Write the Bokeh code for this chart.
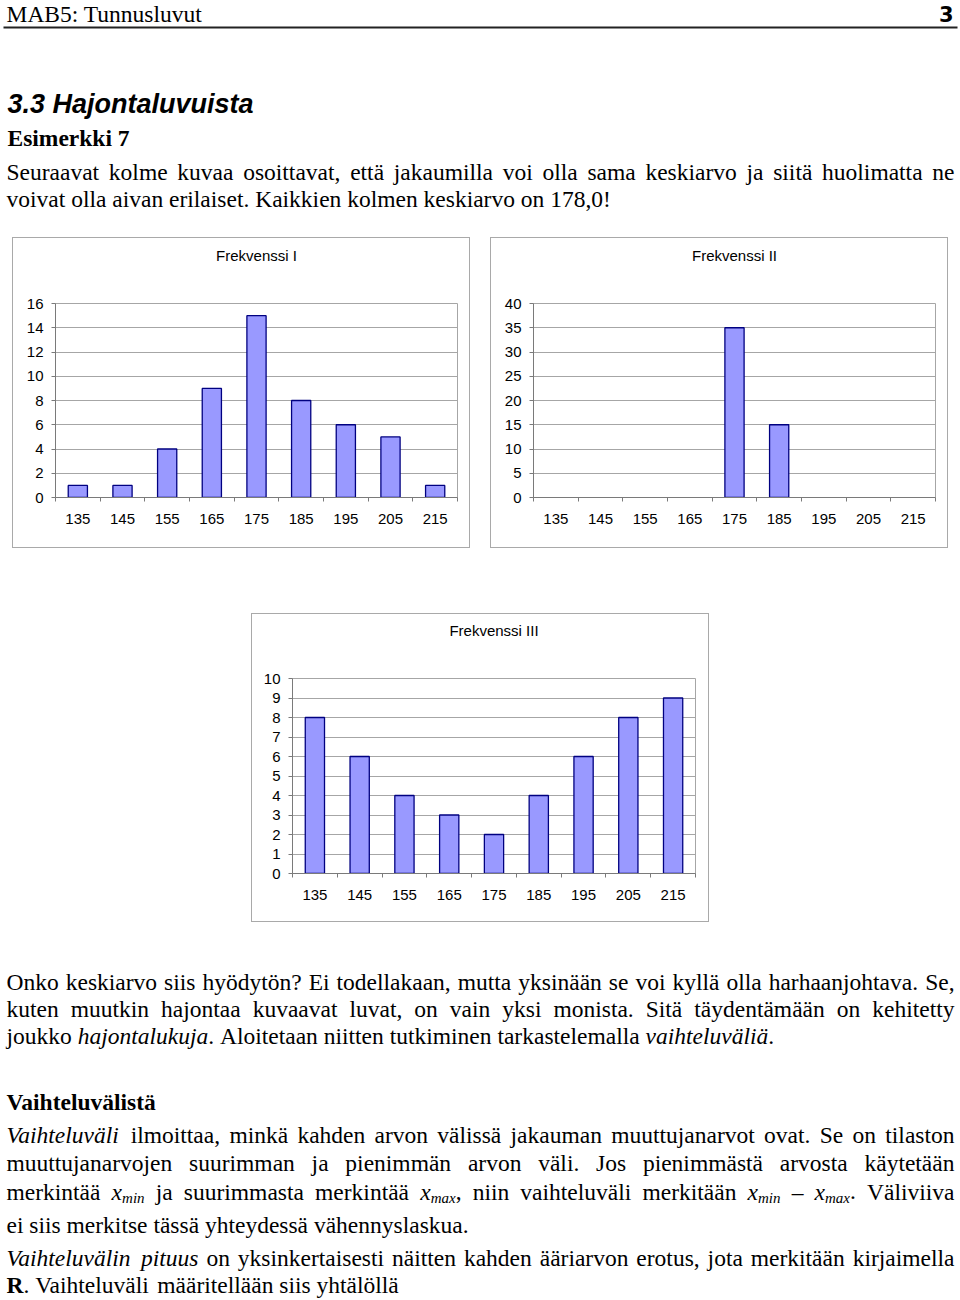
import re
import numpy as np
from bokeh.plotting import figure
from bokeh.models import Range1d, FixedTicker, Spacer, ColumnDataSource
from bokeh.layouts import column, row
from bokeh.embed import file_html
from bokeh.resources import INLINE
from bokeh.core.properties import value

# ---------------- data ----------------
categories = ["135", "145", "155", "165", "175", "185", "195", "205", "215"]
freq_1 = [1, 1, 4, 9, 15, 8, 6, 5, 1]
freq_2 = [0, 0, 0, 0, 35, 15, 0, 0, 0]
freq_3 = [8, 6, 4, 3, 2, 4, 6, 8, 9]
chart_titles = ["Frekvenssi I", "Frekvenssi II", "Frekvenssi III"]
y_limits = [16, 40, 10]
y_steps = [2, 5, 1]

header_left = "MAB5: Tunnusluvut"
page_number = "3"
section_title = "3.3 Hajontaluvuista"
example_title = "Esimerkki 7"
intro_lines = [
    "Seuraavat kolme kuvaa osoittavat, että jakaumilla voi olla sama keskiarvo ja siitä huolimatta ne",
    "voivat olla aivan erilaiset. Kaikkien kolmen keskiarvo on 178,0!",
]
intro_justify = [True, False]

lower_lines = [
    "Onko keskiarvo siis hyödytön? Ei todellakaan, mutta yksinään se voi kyllä olla harhaanjohtava. Se,",
    "kuten muutkin hajontaa kuvaavat luvat, on vain yksi monista. Sitä täydentämään on kehitetty",
    "joukko {i:hajontalukuja}. Aloitetaan niitten tutkiminen tarkastelemalla {i:vaihteluväliä}.",
    "{b:Vaihteluvälistä}",
    "{i:Vaihteluväli} ilmoittaa, minkä kahden arvon välissä jakauman muuttujanarvot ovat. Se on tilaston",
    "muuttujanarvojen suurimman ja pienimmän arvon väli. Jos pienimmästä arvosta käytetään",
    "merkintää {i:x}{s:min} ja suurimmasta merkintää {i:x}{s:max}, niin vaihteluväli merkitään {i:x}{s:min} – {i:x}{s:max}. Väliviiva",
    "ei siis merkitse tässä yhteydessä vähennyslaskua.",
    "{i:Vaihteluvälin} {i:pituus} on yksinkertaisesti näitten kahden ääriarvon erotus, jota merkitään kirjaimella",
    "{b:R}. Vaihteluväli määritellään siis yhtälöllä",
]
lower_justify = [True, True, False, False, True, True, True, False, True, False]

# ---------------- layout constants ----------------
intro_baselines = [176, 203]
lower_baselines = [986.5, 1013.5, 1040.5, 1106.5, 1139.5, 1167.5, 1196, 1229, 1262.5, 1289.5]
TEXT_L, TEXT_R = 6.0, 954.0
BODY_SIZE = 23.5
SUB_SIZE = 15.0
SUB_SHIFT = 5.0
BASE_CORR = 0.21  # renderer draws "alphabetic" text a little low; lift by this fraction of the size

LOW = "abcdefghijklmnopqrstuvwxyz"
UP = "ABCDEFGHIJKLMNOPQRSTUVWXYZ"


def mk(low, up, extra):
    d = dict(zip(LOW, low))
    d.update(zip(UP, up))
    d.update({str(i): 500 for i in range(10)})
    d.update(extra)
    return d


ROMAN = mk([444, 500, 444, 500, 444, 333, 500, 500, 278, 278, 500, 278, 778, 500, 500, 500, 500, 333, 389, 278, 500, 500, 722, 500, 500, 444],
           [722, 667, 667, 722, 611, 556, 722, 722, 333, 389, 722, 611, 889, 722, 722, 556, 722, 667, 556, 611, 722, 722, 944, 722, 722, 611],
           {' ': 250, ',': 250, '.': 250, ':': 278, '?': 444, '!': 333, '–': 500})
ITALIC = mk([500, 500, 444, 500, 444, 278, 500, 500, 278, 278, 444, 278, 722, 500, 500, 500, 500, 389, 389, 278, 500, 444, 667, 444, 444, 389],
            [611, 611, 667, 722, 611, 611, 722, 722, 333, 444, 667, 556, 833, 667, 722, 611, 722, 611, 500, 556, 722, 611, 833, 611, 556, 556],
            {' ': 250, ',': 250, '.': 250, ':': 333, '?': 500, '!': 333, '–': 500})
BOLD = mk([500, 556, 444, 556, 444, 333, 500, 556, 278, 333, 556, 278, 833, 556, 500, 556, 556, 444, 389, 333, 556, 500, 722, 500, 500, 444],
          [722, 667, 722, 722, 667, 611, 778, 778, 389, 500, 778, 667, 944, 722, 778, 611, 778, 722, 556, 667, 722, 722, 1000, 722, 722, 667],
          {' ': 250, ',': 250, '.': 250, ':': 333, '?': 500, '!': 333, '–': 500})
TABLES = {'r': ROMAN, 'i': ITALIC, 's': ITALIC, 'b': BOLD}
FOLD = {'ä': 'a', 'ö': 'o', 'Ä': 'A', 'Ö': 'O', 'å': 'a'}
STYLE_NAME = {'r': 'normal', 'i': 'italic', 's': 'italic', 'b': 'bold'}


def seg_width(text, style):
    t = TABLES[style]
    size = SUB_SIZE if style == 's' else BODY_SIZE
    return sum(t.get(FOLD.get(c, c), 500) for c in text) * size / 1000.0


def parse_word(word):
    segs = []
    for part in re.split(r'(\{[ibs]:[^}]*\})', word):
        if not part:
            continue
        m = re.match(r'\{([ibs]):([^}]*)\}', part)
        if m:
            segs.append((m.group(2), m.group(1)))
        else:
            segs.append((part, 'r'))
    return segs


def layout_lines(lines, baselines, justify):
    xs, ys, texts, styles, sizes = [], [], [], [], []
    for line, base, just in zip(lines, baselines, justify):
        words = [parse_word(w) for w in line.split(" ")]
        widths = [sum(seg_width(t, s) for t, s in w) for w in words]
        if just and len(words) > 1:
            gap = (TEXT_R - TEXT_L - sum(widths)) / (len(words) - 1)
        else:
            gap = 0.25 * BODY_SIZE
        x = TEXT_L
        for segs, w in zip(words, widths):
            cx = x
            for t, s in segs:
                size = SUB_SIZE if s == 's' else BODY_SIZE
                xs.append(cx)
                ys.append(base + (SUB_SHIFT if s == 's' else 0) - BASE_CORR * size)
                texts.append(t)
                styles.append(STYLE_NAME[s])
                sizes.append("%.1fpx" % size)
                cx += seg_width(t, s)
            x += w + gap
    return ColumnDataSource(dict(x=xs, y=ys, text=texts, fstyle=styles, fsize=sizes))


def blank_fig(width, height, y0=0):
    p = figure(width=width, height=height, x_range=Range1d(0, width), y_range=Range1d(y0 + height, y0),
               output_backend="svg", toolbar_location=None, min_border=0,
               x_axis_location=None, y_axis_location=None)
    p.grid.visible = False
    p.outline_line_color = None
    p.background_fill_color = "white"
    p.border_fill_color = "white"
    return p


def draw_serif(p, src):
    p.text(x="x", y="y", text="text", source=src, text_font=value("Liberation Serif"),
           text_font_style="fstyle", text_font_size="fsize", text_baseline="alphabetic",
           text_align="left", text_color="#000000")


# ---------------- header ----------------
header = blank_fig(960, 237)
draw_serif(header, ColumnDataSource(dict(x=[6, 7], y=[18.5 - BASE_CORR * 23.5, 142 - BASE_CORR * 23.5],
                                         text=[header_left, example_title],
                                         fstyle=["normal", "bold"], fsize=["23.5px", "23.5px"])))
header.text(x=[953], y=[20 - 0.3 * 21], text=[page_number], text_font=value("DejaVu Sans"),
            text_font_style="bold", text_font_size="21px", text_align="right",
            text_baseline="alphabetic", text_color="#000000")
header.segment(x0=[3], y0=[27], x1=[957], y1=[27], line_width=2, line_color="#222222")
header.text(x=[7], y=[112 - 0.3 * 27], text=[section_title], text_font=value("Liberation Sans"),
            text_font_style="bold italic", text_font_size="27px", text_align="left",
            text_baseline="alphabetic", text_color="#000000")
draw_serif(header, layout_lines(intro_lines, intro_baselines, intro_justify))

# ---------------- charts ----------------
AXIS_C = "#7a7a7a"
GRID_C = "#a6a6a6"
BORDER_C = "#a9a9a9"
BAR_FILL = "#9999ff"
BAR_LINE = "#000080"


def hline(w):
    return Spacer(width=w, height=1, styles={"background-color": BORDER_C})


def vline(h):
    return Spacer(width=1, height=h, styles={"background-color": BORDER_C})


def make_chart(title, values, ymax, ystep, W, H, strip_h, title_cy,
               left, fw, right, top, fh, bottom):
    n = len(categories)
    xs = np.arange(n) + 0.5
    vals = np.array(values, dtype=float)
    iw, ih = W - 2, H - 2

    tfig = blank_fig(iw, strip_h)
    tfig.text(x=[iw / 2], y=[title_cy], text=[title], text_font=value("Liberation Sans"),
              text_font_size="15px", text_align="center", text_baseline="middle",
              text_color="#000000")

    p = figure(width=iw, height=ih - strip_h, x_range=Range1d(0, n), y_range=Range1d(0, ymax),
               output_backend="svg", toolbar_location=None,
               min_border_left=left, min_border_right=right,
               min_border_top=top, min_border_bottom=bottom)
    p.background_fill_color = "white"
    p.border_fill_color = "white"
    p.outline_line_color = GRID_C

    yt = FixedTicker(ticks=list(range(0, ymax + 1, ystep)))
    yax = p.yaxis[0]
    yax.ticker = yt
    yax.minor_tick_line_color = None
    yax.major_tick_in = 0
    yax.major_tick_out = 4
    yax.axis_line_color = AXIS_C
    yax.major_tick_line_color = AXIS_C
    yax.major_label_standoff = 8
    yax.major_label_text_font = "Liberation Sans"
    yax.major_label_text_font_size = "15px"
    yax.major_label_text_color = "#000000"
    p.ygrid[0].ticker = yt
    p.ygrid[0].grid_line_color = GRID_C
    p.xgrid.visible = False

    xax = p.xaxis[0]
    xax.ticker = FixedTicker(ticks=[float(v) for v in xs], minor_ticks=list(range(n + 1)))
    xax.major_label_overrides = {float(v): c for v, c in zip(xs, categories)}
    xax.major_tick_in = 0
    xax.major_tick_out = 4
    xax.major_tick_line_color = None
    xax.minor_tick_in = 0
    xax.minor_tick_out = 4
    xax.minor_tick_line_color = AXIS_C
    xax.axis_line_color = AXIS_C
    xax.major_label_standoff = 12
    xax.major_label_text_font = "Liberation Sans"
    xax.major_label_text_font_size = "15px"
    xax.major_label_text_color = "#000000"

    mask = vals > 0
    src = ColumnDataSource(dict(x=xs[mask], top=vals[mask]))
    p.vbar(x="x", top="top", bottom=0, width=0.43, source=src,
           fill_color=BAR_FILL, line_color=BAR_LINE, line_width=1.3)

    return column(hline(W), row(vline(ih), column(tfig, p), vline(ih)), hline(W))


c1 = make_chart(chart_titles[0], freq_1, y_limits[0], y_steps[0], 458, 311, 40, 17, 42, 402, 12, 25, 194, 50)
c2 = make_chart(chart_titles[1], freq_2, y_limits[1], y_steps[1], 458, 311, 40, 17, 42, 402, 12, 25, 194, 50)
c3 = make_chart(chart_titles[2], freq_3, y_limits[2], y_steps[2], 458, 309, 40, 15.5, 40, 403, 13, 24, 195, 48)

row1 = row(Spacer(width=12, height=311), c1, Spacer(width=20, height=311), c2, Spacer(width=12, height=311))
gap = Spacer(width=960, height=65)
row2 = row(Spacer(width=251, height=309), c3, Spacer(width=251, height=309))

# ---------------- lower text ----------------
footer = blank_fig(960, 378, 922)
draw_serif(footer, layout_lines(lower_lines, lower_baselines, lower_justify))

page = column(header, row1, gap, row2, footer)

open("out.html", "w").write(file_html(page, INLINE))
